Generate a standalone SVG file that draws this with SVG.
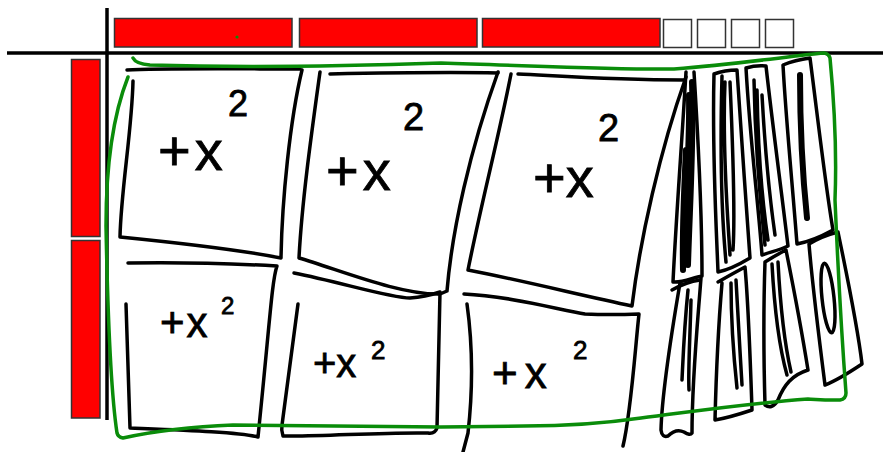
<svg xmlns="http://www.w3.org/2000/svg" width="883" height="452" viewBox="0 0 883 452">
<style>
.bar{fill:#ff0000;stroke:#333;stroke-width:1.5}
.unit{fill:#fff;stroke:#333;stroke-width:1.5}
.axis{stroke:#000;stroke-width:3.5;fill:none}
.ink{fill:none;stroke:#000;stroke-width:3.5;stroke-linecap:round;stroke-linejoin:round}
.thick{fill:none;stroke:#000;stroke-width:6;stroke-linecap:round;stroke-linejoin:round}
.green{fill:none;stroke:#0a8c0a;stroke-width:3.5;stroke-linecap:round;stroke-linejoin:round}
.lbl{font-family:"Liberation Sans","DejaVu Sans",sans-serif;fill:#000;stroke:#000;stroke-width:0.8}
</style>
<rect width="883" height="452" fill="#fff"/>
<g id="axes">
<line class="axis" x1="107" y1="8" x2="107" y2="420"/>
<line class="axis" x1="7" y1="53" x2="883" y2="53"/>
</g>
<g id="top-factors">
<rect class="bar" x="114.5" y="18.5" width="177.5" height="28.5"/>
<rect class="bar" x="299.5" y="18.5" width="177.5" height="28.5"/>
<rect class="bar" x="482.5" y="18.5" width="177.5" height="28.5"/>
<rect class="unit" x="663.5" y="19.5" width="28" height="28"/>
<rect class="unit" x="697.5" y="19.5" width="28" height="28"/>
<rect class="unit" x="731.5" y="19.5" width="28" height="28"/>
<rect class="unit" x="765.5" y="19.5" width="28" height="28"/>
<circle cx="237" cy="37" r="1.6" fill="#0a8c0a"/>
</g>
<g id="left-factors">
<rect class="bar" x="71.5" y="59.5" width="28.5" height="177"/>
<rect class="bar" x="71.5" y="240.5" width="28.5" height="177.5"/>
</g>
<g id="tile1">
<path class="ink" d="M127,70 C160,68 250,69 300,69"/>
<path class="ink" d="M133,81 C132,130 121,190 120,237 C150,240 230,248 281,258 C282,200 290,120 302,70"/>
<text class="lbl" x="158" y="170" font-size="56" letter-spacing="4">+x</text>
<text class="lbl" x="228" y="116" font-size="36">2</text>
</g>
<g id="tile2">
<path class="ink" d="M330,74 C380,73 450,72 498,73"/>
<path class="ink" d="M320,72 C312,130 302,200 299,258 C340,270 400,295 440,294 L447,291 C452,230 470,150 498,72"/>
<text class="lbl" x="326" y="190" font-size="56" letter-spacing="4">+x</text>
<text class="lbl" x="403" y="130" font-size="38">2</text>
</g>
<g id="tile3">
<path class="ink" d="M518,74 C560,76 610,80 684,80"/>
<path class="ink" d="M511,74 C498,140 482,200 468,270 C520,280 580,295 632,306 C640,240 660,150 686,77"/>
<text class="lbl" x="533" y="197" font-size="56">+x</text>
<text class="lbl" x="598" y="141" font-size="38">2</text>
</g>
<g id="tile4">
<path class="ink" d="M128,263 C180,262 240,264 277,266 C272,280 270,320 258,437 C240,432 180,430 130,428 L126,304"/>
<text class="lbl" x="160" y="337" font-size="42" letter-spacing="2">+x</text>
<text class="lbl" x="221" y="314" font-size="24">2</text>
</g>
<g id="tile5">
<path class="ink" d="M294,273 C340,282 390,298 410,298 C425,297 440,292 440,292 L437,428 Q435,434 428,433 C380,432 320,437 283,436 Q281,430 282,425 L298,304"/>
<text class="lbl" x="313" y="377" font-size="40">+x</text>
<text class="lbl" x="371" y="359" font-size="26">2</text>
</g>
<g id="tile6">
<path class="ink" d="M464,294 C510,296 560,310 585,314 C610,315 639,314 639,314 C635,350 631,413 623,446"/>
<path class="ink" d="M467,304 C472,340 474,380 468,433 L463,452"/>
<text class="lbl" x="492" y="388" font-size="44" letter-spacing="7">+x</text>
<text class="lbl" x="573" y="359" font-size="26">2</text>
</g>
<g id="x-tiles">
<path class="ink" d="M686,72 C682,140 676,220 673,282 C682,283 692,278 702,276 C702,200 697,120 694,72"/>
<path class="thick" d="M689,95 C690,150 685,200 684,260 M692,82 C694,140 690,200 688,265 M686,150 C684,190 682,230 683,270"/>
<path class="ink" d="M714,74 Q725,70 737,70 C740,120 746,200 750,258 C740,264 728,270 718,272 C716,220 712,150 714,74 Z"/>
<path class="ink" d="M722,76 C720,150 722,220 726,262 M725,82 C722,150 728,220 730,255 M730,82 C733,150 735,220 733,250"/>
<path class="ink" d="M746,68 Q756,65 766,66 C772,120 780,180 788,246 C780,250 770,252 762,255 C758,200 750,140 746,68 Z"/>
<path class="ink" d="M757,90 C758,150 762,200 768,240 M762,95 C765,150 770,200 775,235 M754,80 C755,140 760,200 765,245"/>
<path class="ink" d="M783,65 Q795,60 810,58 C818,120 826,190 833,230 C822,236 808,242 797,244 C792,180 786,120 783,65 Z"/>
<path class="thick" d="M800,75 C800,120 802,170 807,218"/>
<path class="ink" d="M672,290 Q686,282 700,280 M680,283 C672,330 662,390 661,430 Q662,438 668,436 Q676,428 684,432 Q690,436 692,433 C692,380 697,330 701,278"/>
<path class="ink" d="M688,290 C684,330 683,360 682,380 M691,300 C690,340 688,370 689,390"/>
<path class="ink" d="M718,282 Q732,274 745,267 C748,300 750,350 752,410 C740,414 727,418 715,420 C716,380 718,330 722,283"/>
<path class="ink" d="M731,283 C731,320 734,360 737,388 M736,280 C738,320 740,350 742,385"/>
<path class="ink" d="M765,262 Q776,255 786,250 C792,280 800,320 808,370 C792,375 784,385 778,400 Q772,410 765,405 C764,370 763,320 765,262 Z"/>
<path class="ink" d="M772,264 C775,320 780,350 787,375 M778,262 C781,320 786,350 791,372"/>
<path class="ink" d="M809,244 Q822,236 838,232 C848,280 858,330 862,364 C850,372 838,380 825,385 C818,330 812,280 809,244 Z"/>
<ellipse class="ink" cx="828" cy="298" rx="6" ry="35" transform="rotate(-6 828 298)"/>
</g>
<g id="connectors">
<path class="green" d="M133,58 Q136,64 150,65 C250,68 350,66 441,63 C540,66 620,70 674,69 C740,64 790,56 824,53 Q829,54 830,58 C834,100 837,150 835,200 C838,270 842,340 846,393 Q846,399 840,400 C820,400 810,399 808,399 C740,404 690,412 641,418 C600,424 560,426 524,426 L441,427 C360,426 290,425 233,425 C180,427 150,432 123,438 Q118,437 117,433 C112,400 108,330 106,226 C106,160 115,110 128,77"/>
</g>
</svg>
